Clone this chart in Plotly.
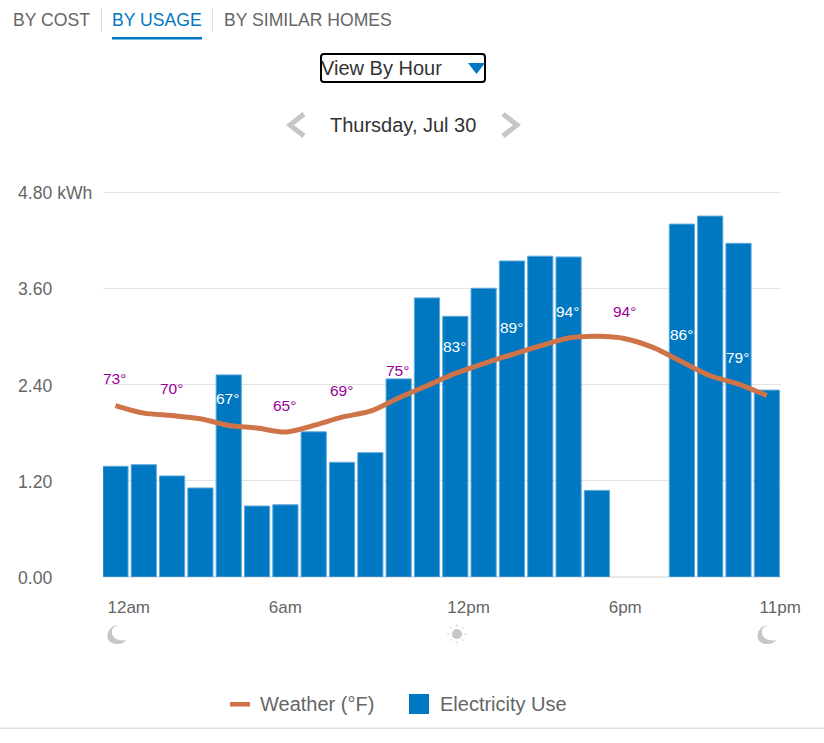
import plotly.graph_objects as go

# ---- data ----
hours = list(range(24))
usage = [1.38, 1.40, 1.26, 1.11, 2.52, 0.885, 0.90, 1.81, 1.43, 1.55, 2.47, 3.48,
         3.25, 3.60, 3.94, 4.00, 3.99, 1.08, None, None, 4.40, 4.50, 4.16, 2.33]
weather = [73, 70.7, 70, 69, 67, 66.2, 65, 67, 69.5, 71.3, 75.3, 79, 82.7, 85.7, 88.4,
           91, 93.4, 93.9, 93.2, 90.5, 86.2, 82, 79.5, 76]
label_hours = [0, 2, 4, 6, 8, 10, 12, 14, 16, 18, 20, 22]
label_temps = [73, 70, 67, 65, 69, 75, 83, 89, 94, 94, 86, 79]
label_on_bar = [False, False, True, False, False, False, True, True, True, False, True, True]
y_ticks = [0, 1.2, 2.4, 3.6, 4.8]
y_tick_text = ["0.00", "1.20", "2.40", "3.60", "4.80 kWh"]
x_tick_pos = [0.47, 6, 12.47, 18, 23.47]
x_tick_text = ["12am", "6am", "12pm", "6pm", "11pm"]

W, H = 824, 743
BLUE, ORANGE, GREY, DARK, ICON = "#0077c1", "#cf7349", "#666666", "#333333", "#c6c6c6"
FONT = "Liberation Sans, Arial, sans-serif"


def fx(x):
    return x / W


def fy(y):
    return 1 - y / H


def path(cmds):
    """cmds: list of (letter, [x, y, x, y...]) in page pixels"""
    out = []
    for c, pts in cmds:
        if c == "Z":
            out.append("Z")
            continue
        pairs = [f"{fx(pts[i]):.5f},{fy(pts[i + 1]):.5f}" for i in range(0, len(pts), 2)]
        out.append(c + " ".join(pairs))
    return " ".join(out)


def shape_path(cmds, fill=None, line=None, width=0):
    return dict(type="path", xref="paper", yref="paper", path=path(cmds),
                fillcolor=fill or "rgba(0,0,0,0)",
                line=dict(color=line or "rgba(0,0,0,0)", width=width))


def rect(x0, y0, x1, y1, fill):
    return dict(type="rect", xref="paper", yref="paper", x0=fx(x0), x1=fx(x1), y0=fy(y0), y1=fy(y1),
                fillcolor=fill, line=dict(width=0))


def text(s, x, y, size, color, anchor="left"):
    return dict(text=s, xref="paper", yref="paper", x=fx(x), y=fy(y), xanchor=anchor, yanchor="middle",
                showarrow=False, font=dict(size=size, color=color, family=FONT))


def moon(cx, cy):
    return shape_path([("M", [cx + 1, cy - 9]),
                       ("C", [cx - 12, cy - 8, cx - 14, cy + 11, cx + 1, cy + 10]),
                       ("C", [cx + 5, cy + 10, cx + 8, cy + 8, cx + 9, cy + 6]),
                       ("C", [cx + 2, cy + 8, cx - 6, cy + 4, cx - 5, cy - 3]),
                       ("C", [cx - 5, cy - 6, cx - 2, cy - 8, cx + 1, cy - 9]), ("Z", [])], fill=ICON)


fig = go.Figure()
fig.add_bar(x=hours, y=usage, width=0.89, name="Electricity Use", showlegend=False,
            marker=dict(color=BLUE, line=dict(color="#5fa9da", width=1)), yaxis="y", hoverinfo="x+y")
fig.add_scatter(x=hours, y=weather, mode="lines", name="Weather (°F)", showlegend=False, yaxis="y2",
                line=dict(color=ORANGE, width=5, shape="spline", smoothing=0.8))

shapes = [
    rect(101, 8, 102, 32, "#dddddd"), rect(212, 8, 213, 32, "#dddddd"),
    rect(112, 37, 202, 39.5, BLUE),
    shape_path([("M", [324, 54]), ("L", [482, 54]), ("Q", [485, 54, 485, 57]), ("L", [485, 79]),
                ("Q", [485, 82, 482, 82]), ("L", [324, 82]), ("Q", [321, 82, 321, 79]), ("L", [321, 57]),
                ("Q", [321, 54, 324, 54]), ("Z", [])], line="#000000", width=2),
    shape_path([("M", [468, 63]), ("L", [485, 63]), ("L", [476.5, 74]), ("Z", [])], fill=BLUE),
    shape_path([("M", [304, 114]), ("L", [290, 125]), ("L", [304, 136])], line=ICON, width=5),
    shape_path([("M", [503, 114]), ("L", [517, 125]), ("L", [503, 136])], line=ICON, width=5),
    moon(117, 634), moon(767, 634),
    dict(type="circle", xref="paper", yref="paper", x0=fx(452), x1=fx(462), y0=fy(629), y1=fy(639),
         fillcolor=ICON, line=dict(width=0)),
]
for a, b, c, d in [(457, 624, 457, 627), (457, 641, 457, 644), (447, 634, 450, 634), (464, 634, 467, 634),
                   (450, 627, 452, 629), (462, 639, 464, 641), (450, 641, 452, 639), (462, 629, 464, 627)]:
    shapes.append(shape_path([("M", [a, b]), ("L", [c, d])], line="#d4d4d4", width=1))
shapes += [
    rect(230, 702, 250, 706.5, ORANGE),
    rect(409, 694, 429, 714, BLUE),
    rect(0, 727.5, W, 729, "#dedede"),
]

ann = [
    text("BY COST", 11, 20, 17.6, GREY), text("BY USAGE", 110, 20, 17.6, BLUE),
    text("BY SIMILAR HOMES", 222, 20, 17.6, GREY),
    text("View By Hour", 319, 68, 20, DARK),
    text("Thursday, Jul 30", 403, 125, 20, DARK, "center"),
    text("Weather (°F)", 258, 704, 20, GREY), text("Electricity Use", 438, 704, 20, GREY),
]
for v, t in zip(y_ticks, y_tick_text):
    ann.append(dict(text=t, xref="paper", yref="y", x=fx(16), y=v, yshift=-1, xanchor="left", yanchor="middle",
                    showarrow=False, font=dict(size=17.6, color=GREY, family=FONT)))
for h, t, on_bar in zip(label_hours, label_temps, label_on_bar):
    ann.append(dict(text=f"{t}°", xref="x", yref="y2", x=h - 0.03, y=weather[h], yshift=27, xanchor="center",
                    yanchor="middle", showarrow=False,
                    font=dict(size=15.5, color="#ffffff" if on_bar else "#990099", family=FONT)))

fig.update_layout(
    width=W, height=H, autosize=False, margin=dict(l=0, r=0, t=0, b=0, autoexpand=False),
    paper_bgcolor="#ffffff", plot_bgcolor="#ffffff", showlegend=False, bargap=0.11,
    font=dict(family=FONT, color=GREY),
    xaxis=dict(domain=[fx(103), fx(781)], range=[-0.44, 23.5], tickmode="array", tickvals=x_tick_pos,
               ticktext=x_tick_text, tickfont=dict(size=17, color=GREY, family=FONT), showgrid=False,
               zeroline=False, showline=False, ticks="outside", ticklen=15, tickcolor="rgba(0,0,0,0)",
               fixedrange=True),
    yaxis=dict(domain=[fy(577), fy(190.4)], range=[0, 4.82], tickmode="array", tickvals=y_ticks,
               showticklabels=False, showgrid=True, gridcolor="#e4e4e4", gridwidth=1, zeroline=True,
               zerolinecolor="#e8e8e8", zerolinewidth=2, fixedrange=True),
    yaxis2=dict(domain=[fy(577), fy(190.4)], overlaying="y", side="right", range=[21.2, 138], visible=False,
                fixedrange=True),
    shapes=shapes, annotations=ann,
)
fig.write_html("out.html", config=dict(displayModeBar=False, responsive=False),
               default_width=f"{W}px", default_height=f"{H}px",
               post_script="document.body.style.margin='0';document.body.style.overflow='hidden';"
                           "Plotly.Plots.resize(document.getElementById('{plot_id}'));")
